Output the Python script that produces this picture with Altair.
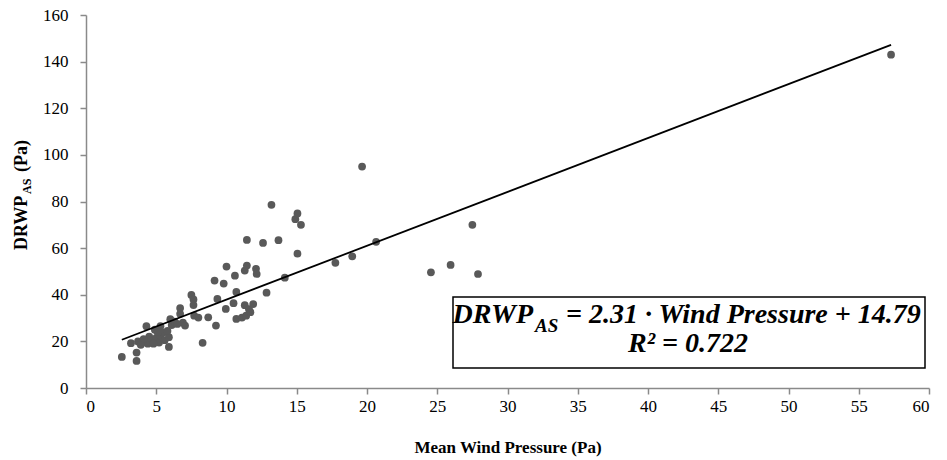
import altair as alt
import pandas as pd

# Scatter data
wind_pressure = [2.55, 3.6, 3.6, 3.2, 3.7, 4.0, 4.3, 4.4, 4.5, 4.7, 4.9, 5.0, 5.2, 5.3, 5.3,
                 5.5, 5.6, 5.9, 5.9, 6.0, 6.1, 6.3, 6.7, 6.7, 6.9, 7.05, 7.5, 7.65, 7.65, 7.7,
                 8.0, 8.3, 8.7, 9.15, 9.25, 9.35, 9.8, 9.95, 10.0, 10.5, 10.6, 10.7, 10.7, 11.1,
                 11.3, 11.3, 11.4, 11.45, 11.45, 11.6, 11.7, 11.9, 12.1, 12.15, 12.6, 12.85,
                 13.2, 13.7, 14.15, 14.9, 15.05, 15.3, 15.05, 17.75, 18.95, 19.65, 20.65,
                 24.55, 25.95, 27.5, 27.9, 57.3, 4.1, 4.8, 5.1, 5.8, 6.5, 3.9]
drwp_as = [13.3, 15.2, 11.6, 19.2, 20.0, 19.5, 26.5, 19.0, 22.0, 20.5, 25.0, 21.5, 19.5, 26.5, 22.5,
           23.8, 20.5, 17.6, 21.8, 29.5, 27.0, 28.5, 34.3, 31.8, 28.0, 26.8, 39.9, 38.0, 35.6, 31.0,
           30.2, 19.4, 30.3, 46.1, 26.8, 38.2, 44.8, 33.9, 52.1, 36.4, 48.2, 41.2, 29.6, 30.2,
           35.5, 50.4, 31.0, 52.5, 63.5, 33.8, 32.5, 36.0, 51.1, 48.9, 62.2, 40.9,
           78.6, 63.4, 47.3, 72.4, 74.9, 70.0, 57.6, 53.7, 56.5, 95.0, 62.7,
           49.6, 52.8, 70.0, 48.9, 143.0, 21.0, 19.0, 24.0, 24.5, 27.5, 18.5]

# Trend line end points
fit_x = [2.55, 57.3]
fit_y = [20.7, 147.2]

x_ticks = [0, 5, 10, 15, 20, 25, 30, 35, 40, 45, 50, 55, 60]
y_ticks = [0, 20, 40, 60, 80, 100, 120, 140, 160]

pts = pd.DataFrame({"x": wind_pressure, "y": drwp_as})
fit = pd.DataFrame({"x": fit_x, "y": fit_y})

FONT = "Liberation Serif"
W, H = 843, 373
L, T = 86, 15
GREY = "#8a8a8a"

xscale = alt.Scale(domain=[0, 60], nice=False, zero=False)
yscale = alt.Scale(domain=[0, 160], nice=False)

xaxis = alt.Axis(values=x_ticks, title="Mean Wind Pressure (Pa)", grid=False,
                 labelFont=FONT, labelFontSize=17, labelFontWeight="normal",
                 labelPadding=4, titleFontSize=17, titleFontWeight="bold",
                 titleBaseline="alphabetic", titleY=64)
yaxis = alt.Axis(values=y_ticks, title=None, grid=False, labelPadding=12,
                 labelFont=FONT, labelFontSize=17, labelFontWeight="normal")

points = alt.Chart(pts).mark_circle(size=60, color="#595959", opacity=1).encode(
    x=alt.X("x:Q", scale=xscale, axis=xaxis),
    y=alt.Y("y:Q", scale=yscale, axis=yaxis),
)

line = alt.Chart(fit).mark_line(color="black", strokeWidth=1.8).encode(
    x=alt.X("x:Q", scale=xscale, axis=xaxis),
    y=alt.Y("y:Q", scale=yscale, axis=yaxis),
)

def txt(text, x, y, size, align="left", angle=0, style="normal", baseline="alphabetic"):
    return alt.Chart(pd.DataFrame({"t": [text]})).mark_text(
        font=FONT, fontSize=size, fontWeight="bold", fontStyle=style, color="black",
        align=align, baseline=baseline, angle=angle,
    ).encode(text="t:N", x=alt.value(x), y=alt.value(y))

# Y axis title with subscript (rotated)
ytitle = [
    txt("DRWP", 27 - L, 250 - T, 18, angle=270),
    txt("AS", 31 - L, 194 - T, 12, angle=270),
    txt("(Pa)", 27 - L, 172 - T, 18, angle=270),
]

box = alt.Chart(pd.DataFrame({"a": [0]})).mark_rect(
    fill="white", stroke="black", strokeWidth=1.5
).encode(x=alt.value(453 - L), x2=alt.value(925 - L), y=alt.value(297 - T), y2=alt.value(368 - T))

eq = [
    txt("DRWP", 533 - L, 323 - T, 28, align="right", style="italic"),
    txt("AS", 535 - L, 332 - T, 19, style="italic"),
    txt("= 2.31 · Wind Pressure + 14.79", 566 - L, 323 - T, 28, style="italic"),
    txt("R² = 0.722", 688 - L, 352 - T, 28, align="center", style="italic"),
]

chart = alt.layer(points, line, *ytitle, box, *eq).properties(
    width=W, height=H,
    padding={"left": L, "top": T, "right": 947 - L - W, "bottom": 460 - T - H},
    autosize=alt.AutoSizeParams(type="none"),
    background="white",
).configure_view(stroke=None).configure_axis(
    labelFont=FONT, labelFontSize=17, labelColor="black",
    titleFont=FONT, titleColor="black",
    domainColor=GREY, tickColor=GREY, tickSize=6, domainWidth=1.5, tickWidth=1.5,
)

chart.save("out.html", embed_options={"renderer": "svg", "actions": False})
